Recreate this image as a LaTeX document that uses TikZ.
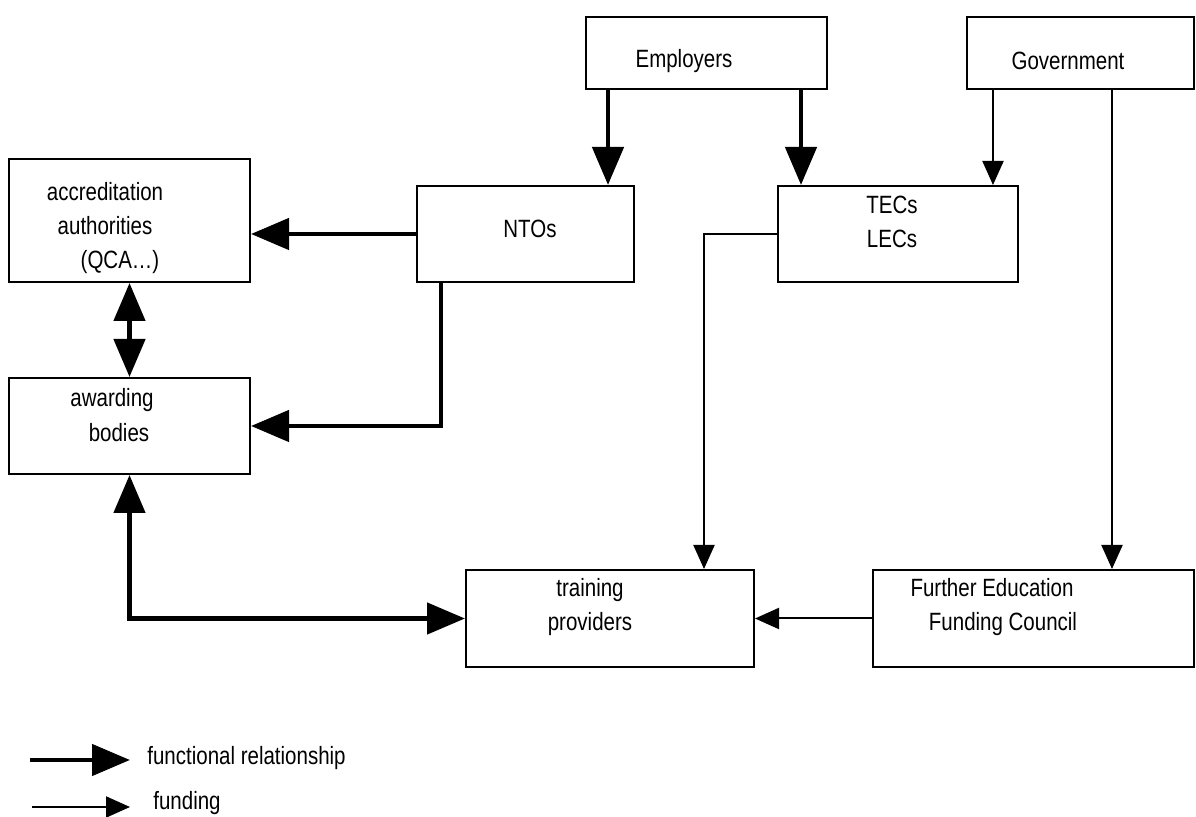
\documentclass[tikz,border=0pt]{standalone}
\usepackage{fontspec}
\setmainfont{Liberation Sans}[FakeStretch=0.82]
\usetikzlibrary{arrows.meta}

\begin{document}
\begin{tikzpicture}[x=0.5pt, y=-0.5pt,
    box/.style={draw, line width=1pt, inner sep=0pt},
    txt/.style={align=center, inner sep=0pt, font=\fontsize{12.5}{17.2}\selectfont},
    func/.style={line width=2.3pt, >={Triangle[length=19pt,width=15.5pt]}},
    fund/.style={line width=1pt, >={Triangle[length=12pt,width=10.5pt]}}]
  \useasboundingbox (0,0) rectangle (1196,817);

  \node[box, minimum width=120.5pt, minimum height=36pt] (emp) at (706.5,53) {};
  \node[box, minimum width=113.5pt, minimum height=36pt] (gov) at (1080.5,53) {};
  \node[box, minimum width=120.5pt, minimum height=61.5pt] (acc) at (129.5,220.5) {};
  \node[box, minimum width=108.5pt, minimum height=48pt] (nto) at (525.5,234) {};
  \node[box, minimum width=120pt, minimum height=48pt] (tec) at (898,234) {};
  \node[box, minimum width=120.5pt, minimum height=48pt] (awb) at (129.5,426) {};
  \node[box, minimum width=144pt, minimum height=48.5pt] (trp) at (610,618.5) {};
  \node[box, minimum width=160.5pt, minimum height=48.5pt] (fec) at (1033.5,618.5) {};

  \node[txt] (empT) at (684,61) {Employers};
  \node[txt] (govT) at (1068,61) {Government};
  \node[txt] (accT) at (105,228) {accreditation\\authorities\\\hspace*{15pt}(QCA\ldots)};
  \node[txt] (ntoT) at (530,229) {NTOs};
  \node[txt] (tecT) at (892,222) {TECs\\LECs};
  \node[txt] (awbT) at (112,415) {awarding\\\hspace*{7pt}bodies};
  \node[txt] (trpT) at (590,607) {training\\providers};
  \node[txt] (fecT) at (992,607) {Further Education\\\hspace*{11pt}Funding Council};

  \coordinate (empL) at (608,0);
  \coordinate (empR) at (801,0);
  \coordinate (govL) at (993,0);
  \coordinate (govR) at (1112,0);
  \coordinate (ntoD) at (441,0);
  \coordinate (tecD) at (704,0);

  \draw[func,->] (emp.south -| empL) -- (nto.north -| empL);
  \draw[func,->] (emp.south -| empR) -- (tec.north -| empR);
  \draw[fund,->] (gov.south -| govL) -- (tec.north -| govL);
  \draw[fund,->] (gov.south -| govR) -- (fec.north -| govR);
  \draw[func,->] (nto.west) -- (nto.west -| acc.east);
  \draw[func,->] (nto.south -| ntoD) |- (awb.east);
  \draw[func,<->] (acc.south) -- (awb.north);
  \draw[func,<->] (awb.south) |- (trp.west);
  \draw[fund,->] (tec.west) -| (trp.north -| tecD);
  \draw[fund,->] (fec.west) -- (trp.east);

  \coordinate (lf1) at (30,760);
  \coordinate (lf2) at (130,760);
  \coordinate (ln1) at (32,807);
  \coordinate (ln2) at (130,807);
  \draw[func,->] (lf1) -- (lf2);
  \draw[fund,->] (ln1) -- (ln2);
  \node[txt, anchor=west] (legF) at (147,758) {functional relationship};
  \node[txt, anchor=west] (legN) at (153,803) {funding};
\end{tikzpicture}
\end{document}
